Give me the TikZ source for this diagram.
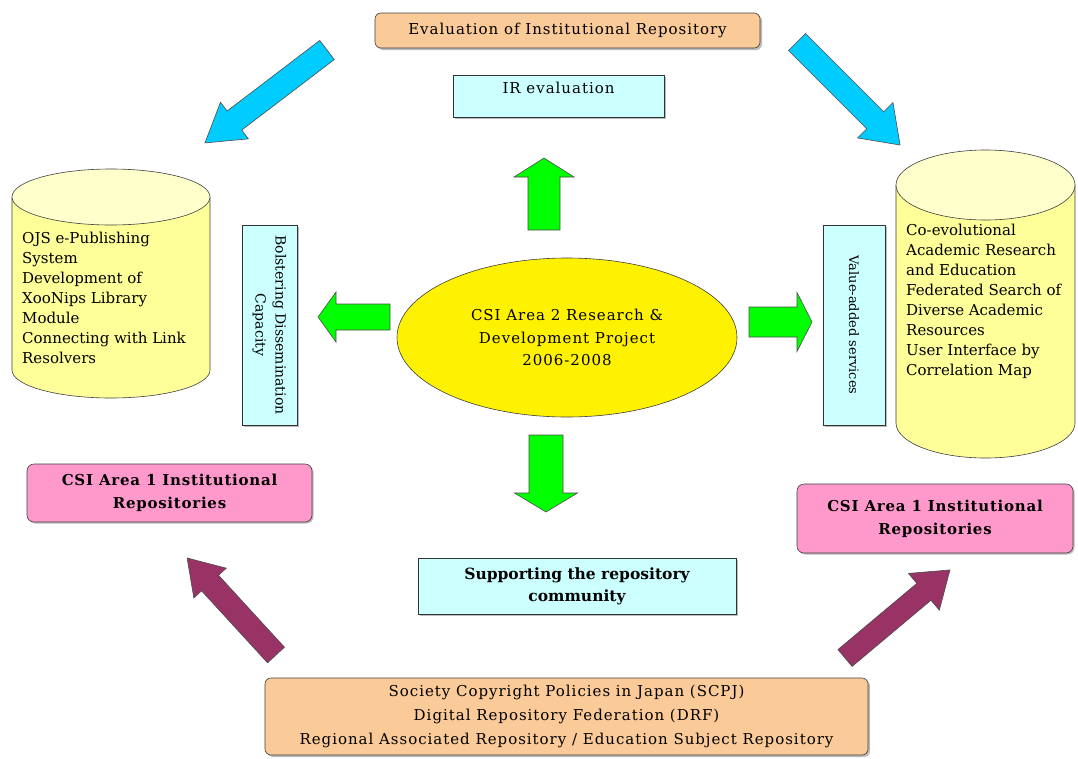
\documentclass[tikz,border=0pt]{standalone}
\usepackage{fontspec}
\setmainfont{DejaVu Serif}
\newfontfamily\spfont[LetterSpace=6.5]{DejaVu Serif}
\newfontfamily\bspfont[LetterSpace=5]{DejaVu Serif}
\usetikzlibrary{shapes.geometric,shadows}
\definecolor{peach}{RGB}{250,202,152}
\definecolor{paleCyan}{RGB}{204,255,255}
\definecolor{pinkbox}{RGB}{255,153,204}
\definecolor{cylbody}{RGB}{255,255,153}
\definecolor{cyltop}{RGB}{255,255,204}
\definecolor{bluearrcol}{RGB}{0,204,255}
\definecolor{purparrcol}{RGB}{153,51,102}
\definecolor{greenarrcol}{RGB}{0,255,0}
\definecolor{shadowgray}{RGB}{120,120,120}
\newcommand\fatarrow[7]{%
  \begin{scope}[shift={#1}, rotate=#2]
    \filldraw[#7] (0,-#4/2) -- ({#3-#6},-#4/2) -- ({#3-#6},-#5/2) -- (#3,0)
      -- ({#3-#6},#5/2) -- ({#3-#6},#4/2) -- (0,#4/2) -- cycle;
  \end{scope}}
\tikzset{
  every node/.style={font=\spfont\fontsize{15}{20}\selectfont},
  peachbox/.style={draw=black!75, fill=peach, rounded corners=6pt, line width=0.6pt,
    drop shadow={shadow xshift=2pt, shadow yshift=-2pt, fill=shadowgray}},
  cyanbox/.style={draw=black!80, fill=paleCyan, line width=0.6pt,
    drop shadow={shadow xshift=1.5pt, shadow yshift=-1.5pt, fill=shadowgray}},
  pinkbx/.style={draw=black!75, fill=pinkbox, rounded corners=7pt, line width=0.6pt,
    drop shadow={shadow xshift=1.5pt, shadow yshift=-1.5pt, fill=shadowgray},
    font=\bspfont\fontsize{15}{23}\selectfont\bfseries, align=center},
  cyltext/.style={anchor=north west, inner sep=0pt, align=left,
    font=\rmfamily\fontsize{15}{20}\selectfont},
  cylline/.style={draw=black!75, line width=0.6pt},
  bluearr/.style={fill=bluearrcol, draw=black!70, line width=0.6pt},
  purparr/.style={fill=purparrcol, draw=black!70, line width=0.6pt},
  greenarr/.style={fill=greenarrcol, draw=black!70, line width=0.6pt},
}
\begin{document}
\begin{tikzpicture}[x=1pt,y=-1pt]
\useasboundingbox (0,0) rectangle (1078,758);
\fill[white] (0,0) rectangle (1078,758);

% left cylinder
\fill[cylbody] (12,197) rectangle (210,370);
\fill[cylbody] (111,370) ellipse [x radius=99pt, y radius=28pt];
\draw[cylline] (12,197) -- (12,370) arc [start angle=180, end angle=360, x radius=99pt, y radius=28pt] -- (210,197);
\filldraw[cylline, fill=cyltop] (111,197) ellipse [x radius=99pt, y radius=28pt];
\node[cyltext] (lcyl) at (22,232) {OJS e-Publishing\\System\\Development of\\XooNips Library\\Module\\Connecting with Link\\Resolvers};

% right cylinder
\fill[cylbody] (896,185) rectangle (1075,423);
\fill[cylbody] (985.5,423) ellipse [x radius=89.5pt, y radius=35pt];
\draw[cylline] (896,185) -- (896,423) arc [start angle=180, end angle=360, x radius=89.5pt, y radius=35pt] -- (1075,185);
\filldraw[cylline, fill=cyltop] (985.5,185) ellipse [x radius=89.5pt, y radius=35pt];
\node[cyltext] (rcyl) at (906,224) {Co-evolutional\\Academic Research\\and Education\\Federated Search of\\Diverse Academic\\Resources\\User Interface by\\Correlation Map};

% boxes
\node[peachbox, minimum width=385, minimum height=35] (eval) at (567.5,30.5) {Evaluation of Institutional Repository};
\node[cyanbox, minimum width=211, minimum height=42] (irbox) at (558.5,96) {};
\node (irtext) at (558.5,88) {IR evaluation};
\node[cyanbox, rotate=-90, minimum width=200, minimum height=55, align=center, font=\rmfamily\fontsize{14}{20}\selectfont] (bolster) at (269.5,325) {Bolstering Dissemination\\Capacity};
\node[cyanbox, rotate=-90, minimum width=200, minimum height=62, font=\rmfamily\fontsize{13}{20}\selectfont] (value) at (854,325) {Value-added services};
\node[ellipse, draw=black!75, fill=yellow, line width=0.6pt, minimum width=340, minimum height=159, align=center, font=\spfont\fontsize{15}{22.5}\selectfont] (proj) at (567,337.5) {CSI Area 2 Research \&\\Development Project\\2006-2008};
\node[pinkbx, minimum width=285, minimum height=58] (pinkL) at (169.5,493) {CSI Area 1 Institutional\\Repositories};
\node[pinkbx, minimum width=276, minimum height=69] (pinkR) at (935,518.5) {CSI Area 1 Institutional\\Repositories};
\node[cyanbox, minimum width=318, minimum height=56, align=center, font=\rmfamily\fontsize{15.5}{22}\selectfont\bfseries] (support) at (577,586) {Supporting the repository\\community};
\node[peachbox, minimum width=603, minimum height=77, align=center, font=\spfont\fontsize{15}{24}\selectfont] (bottom) at (566.5,716.5) {Society Copyright Policies in Japan (SCPJ)\\Digital Repository Federation (DRF)\\Regional Associated Repository / Education Subject Repository};

% fat arrows
\fatarrow{(327,50)}{217.3}{153.4}{24}{46}{37}{bluearr}
\fatarrow{(797,42)}{-45}{145.7}{24}{50}{35}{bluearr}
\fatarrow{(276,655)}{132.5}{131.6}{23}{44}{34}{purparr}
\fatarrow{(845,658)}{40}{137}{22}{48}{34}{purparr}
\fatarrow{(544,230)}{90}{72}{32}{60}{19}{greenarr}
\fatarrow{(546,435)}{-90}{77}{34}{63}{19}{greenarr}
\fatarrow{(390,317)}{180}{72}{26}{50}{18}{greenarr}
\fatarrow{(749,322)}{0}{63}{30}{59}{15}{greenarr}
\end{tikzpicture}
\end{document}
